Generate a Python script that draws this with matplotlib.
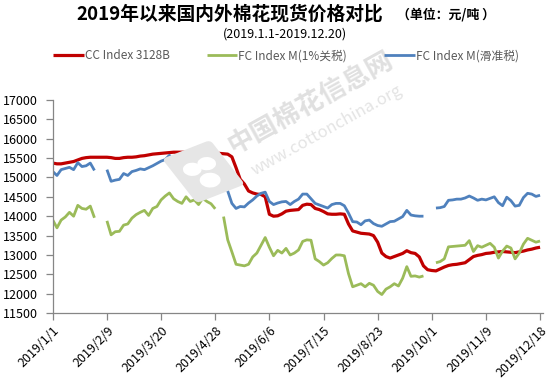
import numpy as np
import pandas as pd
import matplotlib
matplotlib.use("Agg")
import matplotlib.pyplot as plt
from matplotlib.patches import FancyBboxPatch, Circle
import matplotlib.transforms as mtransforms

plt.rcParams['font.family'] = ['Noto Sans CJK SC', 'DejaVu Sans']

# Data (one value every 3 days from 2019-01-01)
start_date = "2019-01-01"
end_date = "2019-12-20"
nan = np.nan

cc_3128b = [
    15370, 15350, 15350, 15370, 15390, 15410, 15450, 15490, 15510, 15520,
    15520, 15520, 15520, 15520, 15510, 15490, 15490, 15510, 15520, 15520,
    15530, 15550, 15560, 15580, 15600, 15610, 15620, 15630, 15640, 15650,
    15650, 15650, 15650, 15660, 15670, 15680, 15700, 15690, 15660, 15630,
    15620, 15610, 15600, 15530, 15250, 14950, 14830, 14650, 14600, 14570,
    14560, 14500, 14050, 14000, 14010, 14060, 14130, 14150, 14160, 14170,
    14280, 14310, 14300, 14200, 14170, 14120, 14060, 14050, 14050, 14060,
    14050, 13800, 13620, 13590, 13560, 13550, 13540, 13500, 13330, 13050,
    12960, 12920, 12960, 13000, 13040, 13110, 13060, 13040, 12950, 12720,
    12620, 12600, 12590, 12640, 12690, 12730, 12750, 12760, 12780, 12800,
    12880, 12960, 12990, 13010, 13040, 13050, 13070, 13080, 13090, 13080,
    13070, 13060, 13080, 13100, 13130, 13150, 13180, 13200,
]

fc_m_1pct = [
    13900, 13700, 13900, 13980, 14100, 14000, 14280, 14200, 14180, 14260,
    13960, nan, nan, 13880, 13520, 13600, 13610, 13770, 13800, 13950,
    14040, 14100, 14150, 14020, 14200, 14250, 14420, 14520, 14600, 14450,
    14380, 14330, 14500, 14380, 14420, 14300, 14460, 14380, 14320, 14190,
    nan, 13990, 13390, 13080, 12760, 12740, 12720, 12760, 12950, 13050,
    13250, 13450, 13200, 12980, 13120, 13050, 13170, 13000, 13050, 13130,
    13350, 13390, 13380, 12900, 12830, 12740, 12800, 12910, 13000, 13000,
    12980, 12520, 12180, 12220, 12260, 12180, 12270, 12220, 12060, 11980,
    12120, 12180, 12260, 12200, 12400, 12700, 12450, 12460, 12430, 12460,
    nan, nan, 12800, 12830, 12900, 13210, 13220, 13230, 13240, 13250,
    13370, 13090, 13240, 13200, 13250, 13300, 13200, 12920, 13100, 13230,
    13180, 12900, 13050, 13280, 13430, 13380, 13330, 13360,
]

fc_m_sliding = [
    15150, 15050, 15200, 15230, 15260, 15200, 15380, 15280, 15300, 15370,
    15180, nan, nan, 15200, 14900, 14930, 14950, 15100, 15050, 15150,
    15180, 15220, 15200, 15250, 15300, 15360, 15420, 15460, 15570, 15360,
    15240, 15260, 15280, 15180, 15200, 15130, 15220, 15200, 15100, 15080,
    nan, 14950, 14650, 14330, 14200, 14250, 14240, 14340, 14420, 14520,
    14590, 14620, 14380, 14300, 14340, 14370, 14380, 14300, 14380, 14440,
    14570, 14570, 14450, 14330, 14290, 14250, 14210, 14300, 14330, 14330,
    14270, 14080, 13860, 13850, 13780, 13880, 13900, 13810, 13760, 13740,
    13800, 13860, 13870, 13930, 13990, 14150, 14030, 14010, 14000, 14000,
    nan, nan, 14210, 14220, 14250, 14410, 14420, 14440, 14440, 14470,
    14520, 14470, 14410, 14440, 14420, 14460, 14500, 14350, 14270, 14490,
    14400, 14260, 14280, 14480, 14590, 14570, 14510, 14540,
]

series_names = ["CC Index 3128B", "FC Index M(1%关税)", "FC Index M(滑准税)"]
series_colors = ["#C00000", "#9BBB59", "#4F81BD"]
series_widths = [2.3, 2.0, 2.0]

x_tick_labels = ["2019/1/1", "2019/2/9", "2019/3/20", "2019/4/28", "2019/6/6",
                 "2019/7/15", "2019/8/23", "2019/10/1", "2019/11/9", "2019/12/18"]
y_ticks = [11500, 12000, 12500, 13000, 13500, 14000, 14500, 15000, 15500, 16000, 16500, 17000]

title = "2019年以来国内外棉花现货价格对比"
unit = "（单位：元/吨 ）"
subtitle = "(2019.1.1-2019.12.20)"

dates = pd.date_range(start_date, periods=len(cc_3128b), freq="3D")

fig = plt.figure(figsize=(5.5, 3.9), dpi=100)
ax = fig.add_axes([0.096, 0.197, 0.891, 0.547])
ax.set_facecolor("none")

# watermark (drawn behind the lines)
wm_angle = 29
fig.text(0.565, 0.735, "中国棉花信息网", rotation=wm_angle, fontsize=19, fontweight="bold",
         color="#e0e0e0", ha="center", va="center", zorder=0)
fig.text(0.595, 0.665, "www.cottonchina.org", rotation=wm_angle, fontsize=12,
         color="#e4e4e4", ha="center", va="center", zorder=0)
logo_tr = mtransforms.Affine2D().rotate_deg_around(0.37, 0.56, wm_angle) + fig.transFigure
logo = FancyBboxPatch((0.33, 0.505), 0.08, 0.11, boxstyle="round,pad=0.01",
                      facecolor="#e6e6e6", edgecolor="none", transform=logo_tr, zorder=0)
fig.patches.append(logo)
for cx, cy, r in [(0.355, 0.575, 0.017), (0.385, 0.575, 0.017), (0.37, 0.535, 0.019)]:
    fig.patches.append(Circle((cx, cy), r, facecolor="white", edgecolor="none",
                              transform=logo_tr, zorder=0))

series = [cc_3128b, fc_m_1pct, fc_m_sliding]
for vals, name, color, lw in zip(series, series_names, series_colors, series_widths):
    ax.plot(dates, vals, color=color, lw=lw, label=name, solid_capstyle="butt")

ax.set_ylim(11500, 17000)
ax.set_yticks(y_ticks)
ax.set_xlim(pd.Timestamp(start_date), pd.Timestamp(end_date))
tick_dates = pd.to_datetime(x_tick_labels, format="%Y/%m/%d")
ax.set_xticks(tick_dates)
ax.set_xticklabels(x_tick_labels, rotation=45, ha="right", rotation_mode="anchor")

for side in ["top", "right"]:
    ax.spines[side].set_visible(False)
for side in ["left", "bottom"]:
    ax.spines[side].set_color("#868686")
    ax.spines[side].set_linewidth(0.9)
ax.tick_params(axis="both", colors="#868686", labelcolor="black", labelsize=9,
               length=5, width=0.9, direction="out")
ax.tick_params(axis="y", pad=6)
ax.tick_params(axis="x", pad=3)

fig.text(0.418, 0.965, title, fontsize=13.5, fontweight="bold", ha="center", va="center")
fig.text(0.81, 0.962, unit, fontsize=9.3, fontweight="bold", ha="center", va="center")
fig.text(0.518, 0.914, subtitle, fontsize=9, ha="center", va="center")

leg = fig.legend(loc="center", bbox_to_anchor=(0.52, 0.857), ncol=3, frameon=False,
                 fontsize=8.5, handlelength=2.6, handletextpad=0.1, columnspacing=3.1)
for t in leg.get_texts():
    t.set_color("#595959")

fig.savefig("out.png", dpi=100)
